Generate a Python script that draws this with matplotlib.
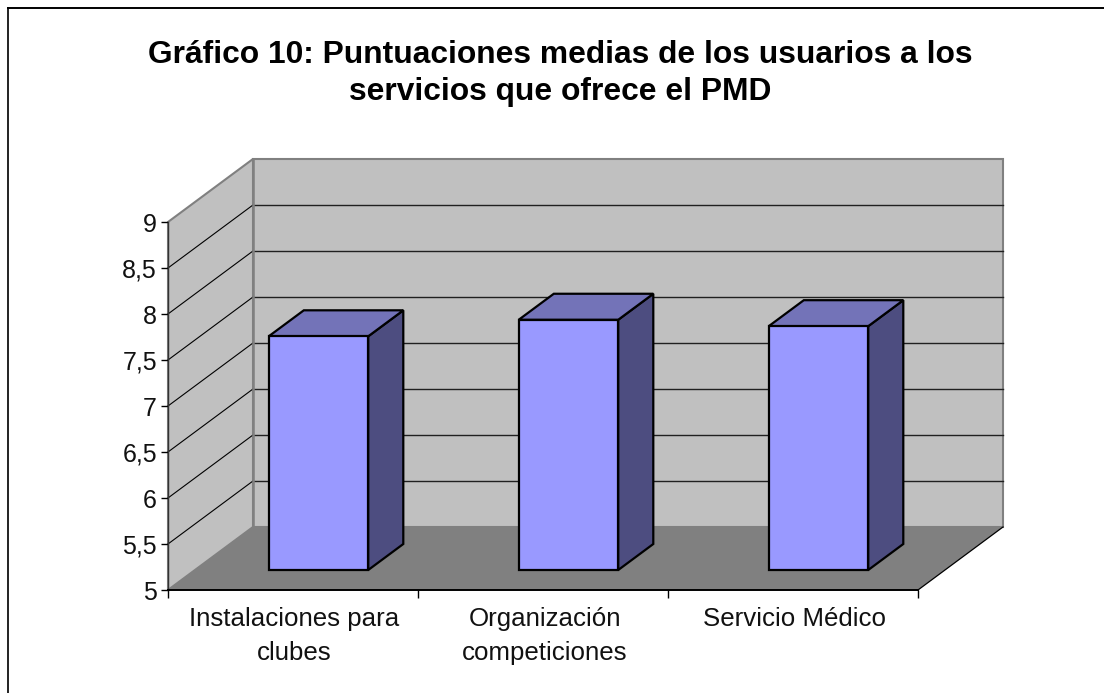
import matplotlib
matplotlib.use("Agg")
import matplotlib.pyplot as plt
from matplotlib.lines import Line2D

plt.rcParams['font.family'] = ['Liberation Sans', 'DejaVu Sans']

W = 1104
H = 693

categories = ["Instalaciones para\nclubes", "Organización\ncompeticiones", "Servicio Médico"]
values = [7.54, 7.72, 7.65]
y_ticks = [5, 5.5, 6, 6.5, 7, 7.5, 8, 8.5, 9]
y_labels = ["5", "5,5", "6", "6,5", "7", "7,5", "8", "8,5", "9"]
title = "Gráfico 10: Puntuaciones medias de los usuarios a los\nservicios que ofrece el PMD"

# how far the back wall is pushed, in data units (1 category, value units)
DX = 0.34
DY = 0.685
# bars sit between these fractions of the depth
Z0 = 0.317
Z1 = 0.73
BAR_W = 0.398
BAR_SHIFT = -0.006


def proj(x, v, z):
    return x + z * DX, v + z * DY


def poly(ax, pts, **kw):
    xs = [p[0] for p in pts]
    ys = [p[1] for p in pts]
    ax.fill(xs, ys, clip_on=False, **kw)


fig = plt.figure(figsize=(W / 100, H / 100), dpi=100)
# 168..918 px wide, 222..590 px from the top
ax = fig.add_axes([168 / W, 1 - 590 / H, 750 / W, 368 / H])
ax.set_xlim(0, 3)
ax.set_ylim(5, 9)
ax.patch.set_visible(False)

ymin = y_ticks[0]
ymax = y_ticks[-1]
n = len(categories)

# walls and floor
wall = dict(facecolor="#c0c0c0", edgecolor="#808080", linewidth=1.5, zorder=1)
poly(ax, [proj(0, ymin, 1), proj(n, ymin, 1), proj(n, ymax, 1), proj(0, ymax, 1)], **wall)
poly(ax, [proj(0, ymin, 0), proj(0, ymin, 1), proj(0, ymax, 1), proj(0, ymax, 0)], **wall)
poly(ax, [proj(0, ymin, 0), proj(n, ymin, 0), proj(n, ymin, 1), proj(0, ymin, 1)],
     facecolor="#808080", edgecolor="none", zorder=1.5)
x1, y1 = proj(n, ymin, 0)
x2, y2 = proj(n, ymin, 1)
ax.plot([x1, x2], [y1, y2], color="black", lw=0.9, clip_on=False, zorder=2)

# gridlines go along the side wall and then the back wall
for v in y_ticks[1:-1]:
    a = proj(0, v, 0)
    b = proj(0, v, 1)
    c = proj(n, v, 1)
    ax.plot([a[0], b[0]], [a[1], b[1]], color="black", lw=0.8, clip_on=False, zorder=2)
    ax.plot([b[0], c[0]], [b[1], c[1]], color="#202020", lw=1, clip_on=False, zorder=2)
ax.plot([proj(0, ymin, 1)[0]] * 2, [proj(0, ymin, 1)[1], proj(0, ymax, 1)[1]],
        color="#808080", lw=1.8, clip_on=False, zorder=2.1)

# bars
edge = dict(edgecolor="black", linewidth=1.6, joinstyle="miter", zorder=3)
for i, val in enumerate(values):
    left = i + 0.5 + BAR_SHIFT - BAR_W / 2
    right = i + 0.5 + BAR_SHIFT + BAR_W / 2
    poly(ax, [proj(right, ymin, Z0), proj(right, ymin, Z1), proj(right, val, Z1), proj(right, val, Z0)],
         facecolor="#4d4d80", **edge)
    poly(ax, [proj(left, val, Z0), proj(right, val, Z0), proj(right, val, Z1), proj(left, val, Z1)],
         facecolor="#7373b8", **edge)
    poly(ax, [proj(left, ymin, Z0), proj(right, ymin, Z0), proj(right, val, Z0), proj(left, val, Z0)],
         facecolor="#9999ff", **edge)

# axes
ax.spines['top'].set_visible(False)
ax.spines['right'].set_visible(False)
ax.spines['left'].set_linewidth(1)
ax.spines['left'].set_color("#333333")
ax.spines['bottom'].set_linewidth(1.4)
ax.spines['left'].set_zorder(4)
ax.spines['bottom'].set_zorder(4)
ax.set_yticks(y_ticks)
ax.set_yticklabels(y_labels, fontsize=18, color="#111111")
ax.tick_params(axis='y', length=5, width=1, pad=3)
ax.set_xticks(range(n + 1))
ax.set_xticklabels([])
ax.tick_params(axis='x', which='major', length=6, width=1)
ax.set_xticks([i + 0.506 for i in range(n)], minor=True)
ax.set_xticklabels(categories, minor=True, fontsize=18.6, color="#111111", linespacing=1.52)
ax.tick_params(axis='x', which='minor', length=0, pad=12)

fig.text(560.5 / W, 1 - 73.5 / H, title, ha="center", va="center",
         fontsize=22.9, fontweight="bold", color="black", linespacing=1.34)

# chart frame, only left and top show
fig.add_artist(Line2D([8 / W, 8 / W], [0, 1 - 8 / H], color="#222222", lw=1.4))
fig.add_artist(Line2D([8 / W, 1], [1 - 8 / H, 1 - 8 / H], color="black", lw=1.4))

fig.savefig("out.png", dpi=100)
